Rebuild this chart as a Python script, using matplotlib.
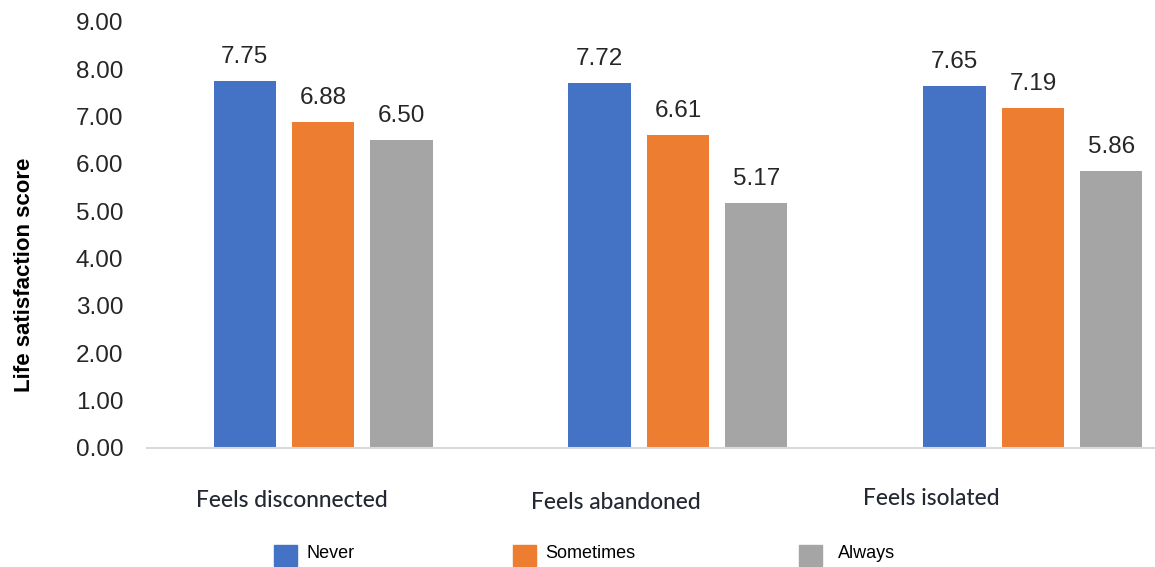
import matplotlib
matplotlib.use("Agg")
import matplotlib.pyplot as plt
import numpy as np

categories = ["Feels disconnected", "Feels abandoned", "Feels isolated"]
series_names = ["Never", "Sometimes", "Always"]
never = [7.75, 7.72, 7.65]
sometimes = [6.88, 6.61, 7.19]
always = [6.50, 5.17, 5.86]
y_ticks = [0, 1, 2, 3, 4, 5, 6, 7, 8, 9]

colors = ["#4472C4", "#ED7D31", "#A5A5A5"]
text_color = "#262626"

plt.rcParams["font.family"] = ["Liberation Sans", "DejaVu Sans"]

fig = plt.figure(figsize=(11.55, 5.67), dpi=100)
ax = fig.add_axes([147 / 1155, 1 - 448 / 567, 1 - 147 / 1155, (448 - 22) / 567])

x = np.arange(len(categories))
width = 0.175
step = 0.221
offsets = [-step, 0, step]
handles = []
for vals, off, col, name in zip([never, sometimes, always], offsets, colors, series_names):
    bars = ax.bar(x + off, vals, width=width, color=col, label=name, zorder=2)
    handles.append(bars)
    for b, v in zip(bars, vals):
        ax.annotate(f"{v:.2f}", (b.get_x() + b.get_width() / 2, v),
                    xytext=(0, 13), textcoords="offset points",
                    ha="center", va="baseline", fontsize=17.5, color=text_color)

ax.set_ylim(0, 9)
ax.set_xlim(-0.496, 2.344)
ax.set_yticks(y_ticks)
ax.set_yticklabels([f"{t:.2f}" for t in y_ticks], fontsize=17.5, color=text_color)
ax.tick_params(axis="y", length=0, pad=17)
ax.set_xticks([])
for s in ["top", "right", "left"]:
    ax.spines[s].set_visible(False)
ax.spines["bottom"].set_color("#D9D9D9")
ax.spines["bottom"].set_linewidth(1.5)

# category names sit below the baseline, each nudged left of its group
label_shift = [-0.087, -0.175, -0.285]
label_y = [-1.11, -1.15, -1.06]
for xi, name, dx, dy in zip(x, categories, label_shift, label_y):
    ax.text(xi + dx, dy, name, ha="center", va="center", fontsize=16.4,
            family=["Lato", "DejaVu Sans"], fontweight="medium",
            color="#232833", clip_on=False)

fig.text(25 / 1155, 1 - 275 / 567, "Life satisfaction score", rotation=90,
         ha="center", va="center", fontsize=16, fontweight="bold", color="black")

# legend entries laid out manually along the bottom
legend_box_x = [274, 513, 799]
legend_text_x = [306, 545, 838]
for h, name, bx, tx in zip(handles, series_names, legend_box_x, legend_text_x):
    fig.patches.append(plt.Rectangle((bx / 1155, 1 - 566 / 567), 23 / 1155, 21 / 567,
                                     transform=fig.transFigure, color=h.patches[0].get_facecolor()))
    fig.text(tx / 1155, 1 - 553 / 567, name, ha="left", va="center",
             fontsize=13, color="black")

fig.savefig("out.png", dpi=100)
